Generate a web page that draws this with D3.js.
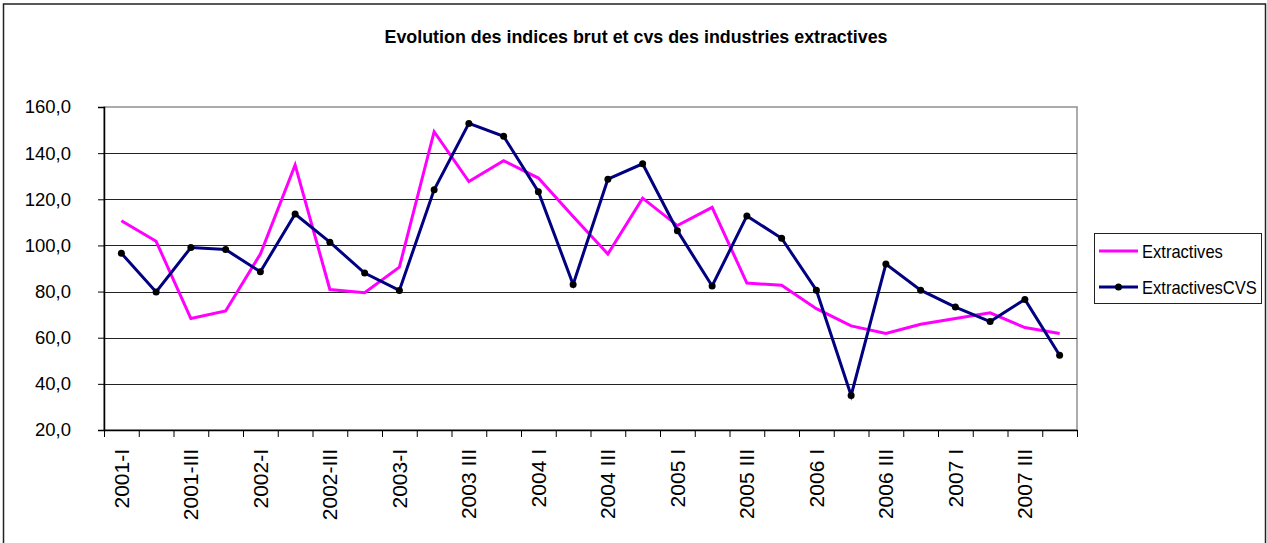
<!DOCTYPE html>
<html>
<head>
<meta charset="utf-8">
<script src="https://cdn.jsdelivr.net/npm/d3@7"></script>
<style>
  body { margin: 0; background: #fff; }
  svg { display: block; font-family: "Liberation Sans", Arial, sans-serif; }
</style>
</head>
<body>
<div id="chart"></div>
<script>
const quarters = [
  '2001-I', '2001-II', '2001-III', '2001-IV',
  '2002-I', '2002-II', '2002-III', '2002-IV',
  '2003-I', '2003-II', '2003-III', '2003-IV',
  '2004-I', '2004-II', '2004-III', '2004-IV',
  '2005-I', '2005-II', '2005-III', '2005-IV',
  '2006-I', '2006-II', '2006-III', '2006-IV',
  '2007-I', '2007-II', '2007-III', '2007-IV'
];

// only every other quarter gets a label
const tickLabels = [
  '2001-I', '2001-III', '2002-I', '2002-III', '2003-I', '2003 III', '2004 I',
  '2004 III', '2005 I', '2005 III', '2006 I', '2006 III', '2007 I', '2007 III'
];

const extractives = [
  110.7, 101.8, 68.3, 71.6, 96.3, 134.9, 80.9, 79.5, 90.6, 149.3,
  127.7, 136.7, 129.2, 112.5, 96.3, 120.5, 108.6, 116.5, 83.7, 82.7,
  72.6, 65.1, 61.8, 65.8, 68.3, 70.8, 64.4, 61.8
];

const extractivesCVS = [
  96.6, 79.8, 99.1, 98.2, 88.6, 113.6, 101.4, 88.0, 80.5, 124.1,
  152.9, 147.3, 123.3, 83.1, 128.7, 135.4, 106.4, 82.4, 112.8, 103.1,
  80.6, 35.0, 91.9, 80.6, 73.3, 67.0, 76.6, 52.4
];

const yTicks = [20, 40, 60, 80, 100, 120, 140, 160];

const title = 'Evolution des indices brut et cvs des industries extractives';

const svgWidth = 1267;
const svgHeight = 543;

const margin = { top: 107, right: 190, bottom: 113, left: 104 };
const innerWidth = svgWidth - margin.left - margin.right;
const innerHeight = svgHeight - margin.top - margin.bottom;

const svg = d3.select('#chart')
  .append('svg')
    .attr('width', svgWidth)
    .attr('height', svgHeight);

// outer chart frame
svg.append('rect')
  .attr('x', 3.5)
  .attr('y', 4)
  .attr('width', 1262)
  .attr('height', 560)
  .attr('fill', 'none')
  .attr('stroke', '#222')
  .attr('stroke-width', 1.5);

svg.append('text')
  .attr('x', 636)
  .attr('y', 43)
  .attr('text-anchor', 'middle')
  .attr('font-size', 19)
  .attr('font-weight', 'bold')
  .attr('textLength', 503)
  .attr('lengthAdjust', 'spacingAndGlyphs')
  .text(title);

const g = svg.append('g')
  .attr('transform', `translate(${margin.left},${margin.top})`);

const xScale = d3.scaleBand()
  .domain(quarters)
  .range([0, innerWidth])
  .padding(0);

const xIndex = d3.scaleLinear()
  .domain([0, quarters.length])
  .range([0, innerWidth]);

const yScale = d3.scaleLinear()
  .domain([20, 160])
  .range([innerHeight, 0]);

const xPos = (d, i) => xScale(quarters[i]) + xScale.bandwidth() / 2;

// plot area border (grey)
g.append('rect')
  .attr('x', 0)
  .attr('y', 0)
  .attr('width', innerWidth)
  .attr('height', innerHeight)
  .attr('fill', 'none')
  .attr('stroke', '#909090')
  .attr('stroke-width', 1.5);

// gridlines
g.append('g')
  .selectAll('line')
  .data(yTicks.filter(t => t > 20 && t < 160))
  .enter().append('line')
    .attr('x1', 0)
    .attr('x2', innerWidth)
    .attr('y1', d => Math.round(yScale(d)) + 0.5)
    .attr('y2', d => Math.round(yScale(d)) + 0.5)
    .attr('stroke', '#222')
    .attr('stroke-width', 1);

// y axis
const yAxisG = g.append('g')
  .call(d3.axisLeft(yScale)
    .tickValues(yTicks)
    .tickSize(6)
    .tickPadding(8)
    .tickFormat(d => d3.format('.1f')(d).replace('.', ',')));

yAxisG.select('.domain').attr('stroke', '#000').attr('stroke-width', 1.5);
yAxisG.selectAll('.tick line').attr('stroke', '#000');
yAxisG.selectAll('.tick text')
  .attr('font-size', 18.5)
  .attr('fill', '#000')
  .attr('font-family', '"Liberation Sans", Arial, sans-serif')
  .attr('dx', -19);

// x axis: boundary ticks
const xTickG = g.append('g')
  .attr('transform', `translate(0,${innerHeight})`)
  .call(d3.axisBottom(xIndex)
    .tickValues(d3.range(quarters.length + 1))
    .tickSize(7)
    .tickSizeOuter(0));

xTickG.selectAll('.tick text').remove();
xTickG.select('.domain').attr('stroke', '#000').attr('stroke-width', 1.5);
xTickG.selectAll('.tick line').attr('stroke', '#000');

// x axis: labels at the centre of every other quarter
const labelQuarters = quarters.filter((q, i) => i % 2 === 0);

const xLabelG = g.append('g')
  .attr('transform', `translate(0,${innerHeight})`)
  .call(d3.axisBottom(xScale)
    .tickValues(labelQuarters)
    .tickSize(0)
    .tickFormat((d, i) => tickLabels[i]));

xLabelG.select('.domain').remove();
xLabelG.selectAll('.tick text')
  .attr('font-size', 21)
  .attr('fill', '#000')
  .attr('font-family', '"Liberation Sans", Arial, sans-serif')
  .attr('text-anchor', 'end')
  .attr('transform', 'rotate(-90)')
  .attr('x', -19)
  .attr('y', 0)
  .attr('dy', '0.36em');

const line = d3.line()
  .x(xPos)
  .y(d => yScale(d));

g.append('path')
  .datum(extractives)
  .attr('fill', 'none')
  .attr('stroke', '#ff00ff')
  .attr('stroke-width', 3)
  .attr('stroke-linejoin', 'miter')
  .attr('d', line);

g.append('path')
  .datum(extractivesCVS)
  .attr('fill', 'none')
  .attr('stroke', '#000080')
  .attr('stroke-width', 3)
  .attr('stroke-linejoin', 'miter')
  .attr('d', line);

g.selectAll('.marker').data(extractivesCVS)
  .enter().append('circle')
    .attr('class', 'marker')
    .attr('cx', xPos)
    .attr('cy', d => yScale(d))
    .attr('r', 3.5)
    .attr('fill', '#000');

// legend
const legend = svg.append('g')
  .attr('transform', 'translate(1094,233)');

legend.append('rect')
  .attr('x', 0.5)
  .attr('y', 0.5)
  .attr('width', 167)
  .attr('height', 70)
  .attr('fill', '#fff')
  .attr('stroke', '#222')
  .attr('stroke-width', 1);

const legendItems = [
  { name: 'Extractives', color: '#ff00ff', marker: false },
  { name: 'ExtractivesCVS', color: '#000080', marker: true }
];

const item = legend.selectAll('.item').data(legendItems)
  .enter().append('g')
    .attr('class', 'item')
    .attr('transform', (d, i) => `translate(0,${18 + i * 36})`);

item.append('line')
  .attr('x1', 5)
  .attr('x2', 44)
  .attr('stroke', d => d.color)
  .attr('stroke-width', 3);

item.filter(d => d.marker).append('circle')
  .attr('cx', 24.5)
  .attr('r', 3.5)
  .attr('fill', '#000');

item.append('text')
  .attr('x', 48)
  .attr('y', 6.5)
  .attr('font-size', 19)
  .text(d => d.name)
  .each(function() {
    const w = this.getComputedTextLength();
    d3.select(this)
      .attr('textLength', w * 0.87)
      .attr('lengthAdjust', 'spacingAndGlyphs');
  });
</script>
</body>
</html>
